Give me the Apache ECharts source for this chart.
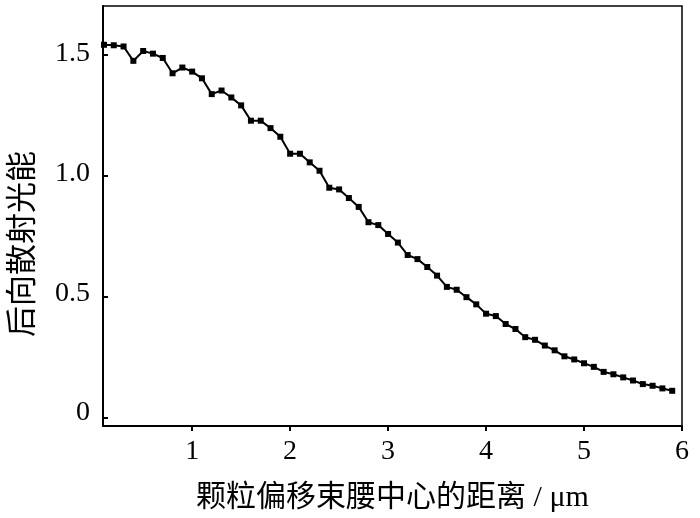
<!DOCTYPE html>
<html><head><meta charset="utf-8">
<script src="https://cdn.jsdelivr.net/npm/echarts@6/dist/echarts.min.js"></script>
<style>html,body{margin:0;padding:0;background:#fff}#c{width:700px;height:518px}</style>
</head><body><div id="c"></div>
<script>
const xValues = [0.1,0.2,0.3,0.4,0.5,0.6,0.7,0.8,0.9,1.0,1.1,1.2,1.3,1.4,1.5,1.6,1.7,1.8,1.9,2.0,2.1,2.2,2.3,2.4,2.5,2.6,2.7,2.8,2.9,3.0,3.1,3.2,3.3,3.4,3.5,3.6,3.7,3.8,3.9,4.0,4.1,4.2,4.3,4.4,4.5,4.6,4.7,4.8,4.9,5.0,5.1,5.2,5.3,5.4,5.5,5.6,5.7,5.8,5.9];
const energy = [1.538,1.536,1.531,1.471,1.512,1.501,1.483,1.419,1.443,1.426,1.398,1.332,1.347,1.318,1.285,1.221,1.221,1.190,1.154,1.083,1.083,1.047,1.012,0.941,0.934,0.898,0.861,0.797,0.785,0.748,0.712,0.660,0.643,0.610,0.574,0.527,0.515,0.484,0.454,0.415,0.405,0.372,0.351,0.317,0.306,0.282,0.262,0.237,0.224,0.208,0.193,0.172,0.162,0.149,0.136,0.121,0.114,0.103,0.093];
const xTicks = [1,2,3,4,5,6];
const yTicks = [0,0.5,1.0,1.5];
const yTickLabels = ['0','0.5','1.0','1.5'];
const xTitle = '颗粒偏移束腰中心的距离 / μm';
const yTitle = '后向散射光能';

// axis extents
const xMin = 0.09, xMax = 6;
const yMin = -0.054, yMax = 1.70;

// layout
const W = 700, H = 518;
const L = 103, R = 18, T = 6, B = 87;
const pw = W - L - R, ph = H - T - B;
const serif = '"Liberation Serif","DejaVu Serif","Noto Sans CJK SC",serif';

// tick-only grids aligned to the main plot so that ticks start on a tick value
const xtLeft = L + (xTicks[0] - xMin) / (xMax - xMin) * pw;
const xtRight = R + (xMax - xTicks[xTicks.length-1]) / (xMax - xMin) * pw;
const ytTop = T + (yMax - yTicks[yTicks.length-1]) / (yMax - yMin) * ph;
const ytBottom = B + (yTicks[0] - yMin) / (yMax - yMin) * ph;

const tickStyle = {show:true,inside:true,length:5,lineStyle:{color:'#000',width:2}};
const hidden = {type:'value',show:false};

const chart = echarts.init(document.getElementById('c'));
chart.setOption({
  animation:false,
  grid:[
    {left:L,right:R,top:T,bottom:B,show:true,borderColor:'#000',borderWidth:1.5},
    {left:xtLeft,right:xtRight,top:T,bottom:B},
    {left:L,right:R,top:ytTop,bottom:ytBottom}
  ],
  graphic:[{
    type:'text',x:24,y:244,rotation:Math.PI/2,
    style:{text:yTitle,font:'31px '+serif,fill:'#000',align:'center',verticalAlign:'middle'}
  }],
  xAxis:[{
    gridIndex:0,type:'value',min:xMin,max:xMax,
    name:xTitle,nameLocation:'middle',nameGap:57,
    nameTextStyle:{fontFamily:serif,fontSize:30,color:'#000'},
    axisLine:{show:true,onZero:false,lineStyle:{color:'#000',width:2}},
    axisTick:{show:false},
    axisLabel:{customValues:xTicks,margin:12,fontFamily:serif,fontSize:28,color:'#000'},
    splitLine:{show:false}
  },{
    gridIndex:1,type:'value',position:'bottom',
    min:xTicks[0],max:xTicks[xTicks.length-1],interval:xTicks[1]-xTicks[0],
    axisLine:{show:false,onZero:false},axisTick:tickStyle,axisLabel:{show:false},splitLine:{show:false}
  },Object.assign({gridIndex:2},hidden)],
  yAxis:[{
    gridIndex:0,type:'value',min:yMin,max:yMax,
    axisLine:{show:true,onZero:false,lineStyle:{color:'#000',width:2}},
    axisTick:{show:false},
    axisLabel:{customValues:yTicks,margin:13,fontFamily:serif,fontSize:28,color:'#000',
      formatter:function(v){const i=yTicks.indexOf(v);return i>=0?yTickLabels[i]:'';}},
    splitLine:{show:false}
  },Object.assign({gridIndex:1},hidden),{
    gridIndex:2,type:'value',position:'left',
    min:yTicks[0],max:yTicks[yTicks.length-1],interval:yTicks[1]-yTicks[0],
    axisLine:{show:false,onZero:false},axisTick:tickStyle,axisLabel:{show:false},splitLine:{show:false}
  }],
  series:[{
    type:'line',xAxisIndex:0,yAxisIndex:0,
    data:xValues.map((x,i)=>[x,energy[i]]),
    symbol:'rect',symbolSize:6,
    lineStyle:{color:'#000',width:2},
    itemStyle:{color:'#000'}
  }]
});
</script></body></html>
